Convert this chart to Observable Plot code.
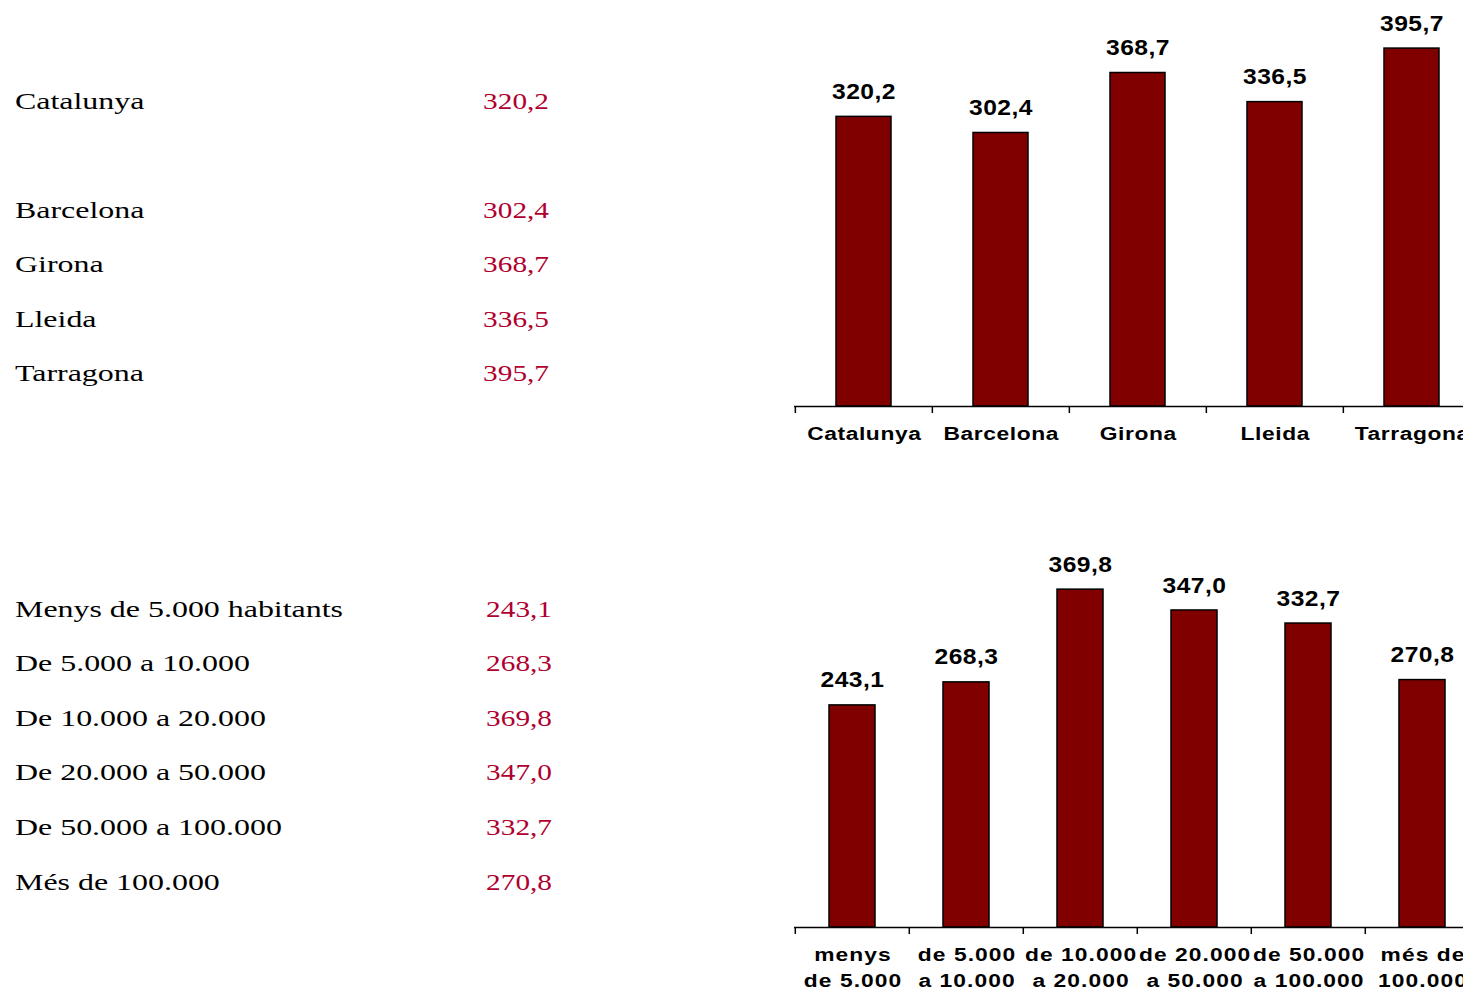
<!DOCTYPE html>
<html>
<head>
<meta charset="utf-8">
<script src="https://cdn.jsdelivr.net/npm/d3@7"></script>
<script src="https://cdn.jsdelivr.net/npm/@observablehq/plot@0.6"></script>
<style>
  html, body { margin: 0; padding: 0; background: #fff; overflow: hidden; width: 1463px; height: 990px; }
  #page { position: relative; width: 1463px; height: 990px; overflow: hidden; }
  .lbl { position: absolute; left: 15px; font-family: "Liberation Serif", serif; font-size: 24px; line-height: 1;
         color: #000; white-space: nowrap; transform-origin: left center; transform: scaleX(1.33); }
  .num { position: absolute; font-family: "Liberation Serif", serif; font-size: 24px; line-height: 1;
         color: #b0002f; white-space: nowrap; transform-origin: right center; transform: scaleX(1.22); }
  .chart { position: absolute; left: 780px; }
</style>
</head>
<body>
<div id="page"></div>
<script>
// ---- data ----
const provinces = ["Catalunya", "Barcelona", "Girona", "Lleida", "Tarragona"];
const provinceValues = [320.2, 302.4, 368.7, 336.5, 395.7];
const provinceTicks = ["Catalunya", "Barcelona", "Girona", "Lleida", "Tarragona"];

const sizeRows = ["Menys de 5.000 habitants", "De 5.000 a 10.000", "De 10.000 a 20.000",
                  "De 20.000 a 50.000", "De 50.000 a 100.000", "Més de 100.000"];
const sizeTicks = ["menys\nde 5.000", "de 5.000\na 10.000", "de 10.000\na 20.000",
                   "de 20.000\na 50.000", "de 50.000\na 100.000", "més de\n100.000"];
const sizeValues = [243.1, 268.3, 369.8, 347.0, 332.7, 270.8];

const fmt = v => d3.format(".1f")(v).replace(".", ",");
const page = document.getElementById("page");

// ---- left tables ----
function table(names, values, slots, baseTop, rowStep, numRight) {
  names.forEach((n, i) => {
    const top = baseTop + slots[i] * rowStep;
    const a = document.createElement("div");
    a.className = "lbl"; a.style.top = top + "px"; a.textContent = n;
    page.appendChild(a);
    const b = document.createElement("div");
    b.className = "num"; b.style.top = top + "px"; b.style.right = (1463 - numRight) + "px";
    b.textContent = fmt(values[i]);
    page.appendChild(b);
  });
}
table(provinces, provinceValues, [0, 2, 3, 4, 5], 88.5, 54.5, 549);
table(sizeRows, sizeValues, [0, 1, 2, 3, 4, 5], 596.5, 54.6, 552);

// horizontally widen glyphs of SVG texts around their anchor
function stretch(sel, s) {
  sel.each(function () {
    const t = this.getAttribute("transform");
    if (t) this.setAttribute("transform", t + ` scale(${s},1)`);
    else {
      const x = +this.getAttribute("x") || 0;
      this.setAttribute("x", 0);
      this.setAttribute("transform", `translate(${x},0) scale(${s},1)`);
    }
  });
}

// ---- charts ----
function chart(names, values, ticks, {top, height, marginTop, marginBottom, ls}) {
  const width = 720, marginLeft = 14, marginRight = 19.5;
  const step = (width - marginLeft - marginRight) / names.length;
  const data = names.map((n, i) => ({name: n, value: values[i]}));
  const tickMap = new Map(names.map((n, i) => [n, ticks[i]]));
  const plot = Plot.plot({
    width, height, marginLeft, marginRight, marginTop, marginBottom,
    style: {fontFamily: '"Liberation Sans", Arial, sans-serif', background: "transparent", color: "#000", overflow: "visible"},
    x: {domain: names, paddingInner: 0.595, paddingOuter: 0.2975, label: null},
    y: {domain: [0, 440], axis: null},
    marks: [
      Plot.barY(data, {x: "name", y: "value", fill: "#800000", stroke: "#000", strokeWidth: 1.5}),
      Plot.ruleY([0], {stroke: "#000", strokeWidth: 1.6}),
      Plot.ruleX(names, {x: d => d, y1: 0, y2: 0, dx: -step / 2, insetBottom: -7, stroke: "#000", strokeWidth: 1.5}),
      Plot.text(data, {x: "name", y: "value", text: d => fmt(d.value), dy: -25,
                       fontSize: 22, fontWeight: "bold", fill: "#000"}),
      Plot.axisX({tickSize: 0, tickPadding: 15, fontSize: 19, fontWeight: "bold", lineHeight: 26 / 19,
                  dx: ls * 0.6, tickFormat: d => tickMap.get(d), label: null, fill: "#000"})
    ]
  });
  const tl = d3.select(plot).selectAll('g[aria-label="x-axis tick label"] text').attr("letter-spacing", ls);
  stretch(tl, 1.2);
  const vl = d3.select(plot).selectAll('g[aria-label="text"] text').attr("letter-spacing", 0.4);
  stretch(vl, 1.12);
  plot.classList.add("chart");
  plot.style.top = top + "px";
  page.appendChild(plot);
}

chart(provinces, provinceValues, provinceTicks, {top: 0, height: 460, marginTop: 8, marginBottom: 54, ls: 0.5});
chart(sizeRows, sizeValues, sizeTicks, {top: 500, height: 490, marginTop: 25, marginBottom: 63, ls: 0.9});
</script>
</body>
</html>
